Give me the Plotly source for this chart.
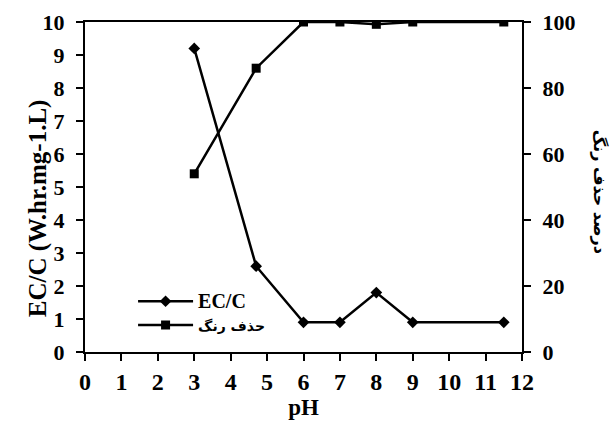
import plotly.graph_objects as go

ph = [3, 4.7, 6, 7, 8, 9, 11.5]
ecc = [9.2, 2.6, 0.9, 0.9, 1.8, 0.9, 0.9]
removal = [54, 86, 100, 100, 99.3, 100, 100]

x_ticks = list(range(0, 13))
y1_ticks = list(range(0, 11))
y2_ticks = [0, 20, 40, 60, 80, 100]

serif = "Liberation Serif, Times New Roman, serif"

fig = go.Figure()
fig.add_trace(go.Scatter(
    x=ph, y=ecc, name="<span style='font-size:20px'><b>EC/C</b></span>", mode="lines+markers",
    line=dict(color="black", width=2.5),
    marker=dict(symbol="diamond", size=9, color="black"),
))
fig.add_trace(go.Scatter(
    x=ph, y=removal, name="<span style='font-size:14px;font-family:DejaVu Sans'><b>حذف رنگ</b></span>",
    mode="lines+markers", yaxis="y2",
    line=dict(color="black", width=2.5),
    marker=dict(symbol="square", size=9, color="black"),
))

def axis_common(size, standoff=0):
    return dict(
        showline=True, linecolor="black", linewidth=2,
        ticks="outside", tickcolor="black", tickwidth=2, ticklen=7,
        showgrid=False, zeroline=False, automargin=False,
        ticklabelstandoff=standoff,
        tickfont=dict(family=serif, size=size, color="black", weight="bold"),
    )

fig.update_layout(
    width=614, height=422,
    margin=dict(l=85, r=92, t=22, b=70),
    plot_bgcolor="white", paper_bgcolor="white",
    showlegend=True,
    legend=dict(x=0.11, y=0.205, xanchor="left", yanchor="top",
                bgcolor="rgba(0,0,0,0)",
                font=dict(family=serif, size=16, color="black"),
                tracegroupgap=0, itemwidth=55),
    xaxis=dict(range=[0, 12], tickvals=x_ticks, ticktext=[f"<b>{v}</b>" for v in x_ticks],
               mirror=True,
               title=dict(text="<b>pH</b>", font=dict(family=serif, size=23, color="black"), standoff=0),
               **axis_common(24)),
    yaxis=dict(range=[0, 10], tickvals=y1_ticks, ticktext=[f"<b>{v}</b>" for v in y1_ticks],
               **axis_common(22, 7)),
    yaxis2=dict(range=[0, 100], tickvals=y2_ticks, ticktext=[f"<b>{v}</b>" for v in y2_ticks],
                overlaying="y", side="right",
                **axis_common(22, 7)),
)
fig.add_annotation(
    x=-0.144, y=0.436, xref="paper", yref="paper",
    text="<b>EC/C (W.hr.mg-1.L)</b>", textangle=-90, showarrow=False,
    font=dict(family=serif, size=25, color="black"),
)
fig.add_annotation(
    x=1.203, y=0.485, xref="paper", yref="paper",
    text="<b>درصد حذف رنگ</b>", textangle=90, showarrow=False,
    font=dict(family="DejaVu Sans", size=16, color="black"),
)

fig.write_html("out.html", config={"displayModeBar": False},
               post_script="document.body.style.margin='0';document.body.style.padding='0';")
